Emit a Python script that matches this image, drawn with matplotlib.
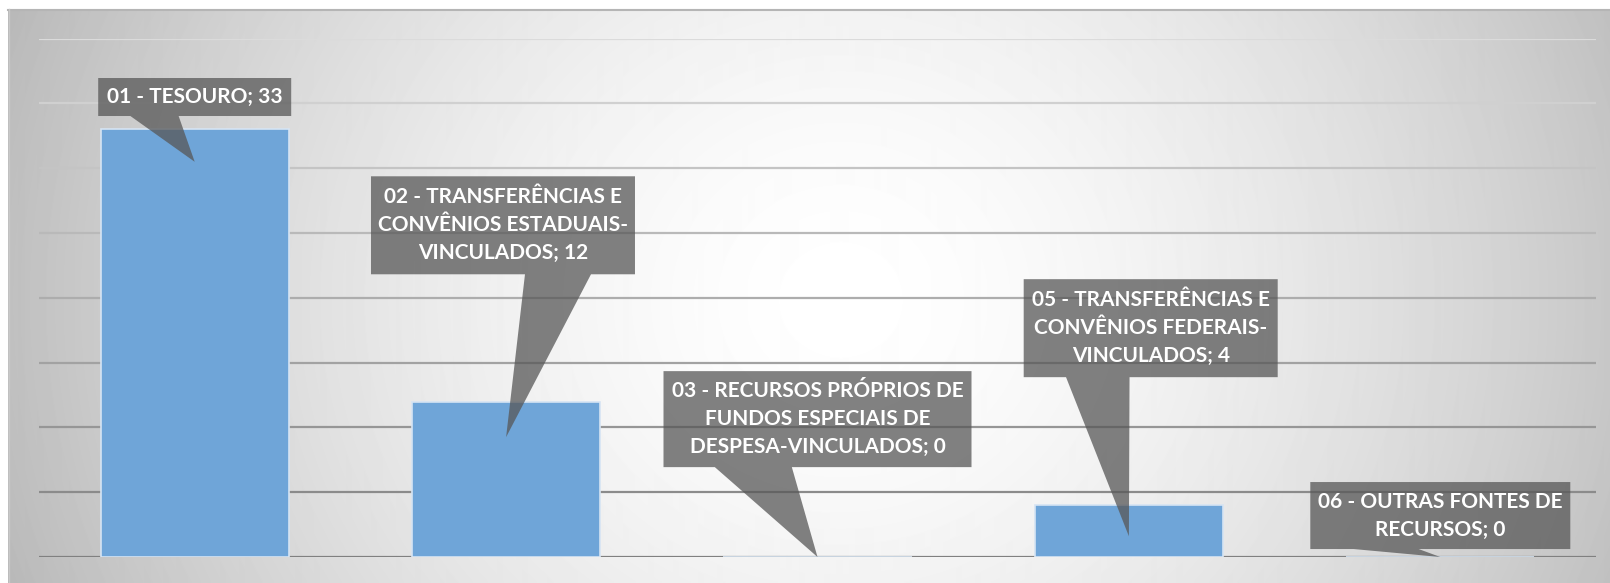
import numpy as np
import matplotlib.pyplot as plt
from matplotlib.patches import Polygon

categories = [
    "01 - TESOURO",
    "02 - TRANSFERÊNCIAS E\nCONVÊNIOS ESTADUAIS-\nVINCULADOS",
    "03 - RECURSOS PRÓPRIOS DE\nFUNDOS ESPECIAIS DE\nDESPESA-VINCULADOS",
    "05 - TRANSFERÊNCIAS E\nCONVÊNIOS FEDERAIS-\nVINCULADOS",
    "06 - OUTRAS FONTES DE\nRECURSOS",
]
values = [33, 12, 0, 4, 0]
y_ticks = [0, 5, 10, 15, 20, 25, 30, 35, 40]

# callout layout: box centre and pointer tip in data units, box size in pixels
box_centers = [(0.0, 35.5), (0.99, 25.6), (2.0, 10.64), (3.07, 17.66), (4.0, 3.2)]
tips = [(0.0, 30.5), (1.0, 9.25), (2.0, 0.0), (3.0, 1.6), (4.0, 0.0)]
box_sizes = [(193, 38), (264, 98), (308, 96), (254, 98), (260, 67)]

W, H = 1610, 583
fig = plt.figure(figsize=(W / 100, H / 100), dpi=100)

# background: radial grey gradient inside a frame
bg = fig.add_axes([0, 0, 1, 1])
bg.set_xlim(0, W)
bg.set_ylim(H, 0)
bg.set_axis_off()
yy, xx = np.mgrid[0:H, 0:W]
r = np.hypot((xx - 840) / 750, (yy - 300) / 700)
img = 1 - 0.21 * np.clip(r, 0, 1.3) ** 1.6
img[:, :8] = 1
img[:9, :] = 1
bg.imshow(img, cmap='gray', vmin=0, vmax=1, extent=(0, W, H, 0),
          aspect='auto', interpolation='bilinear')
bg.plot([8, W], [9.5, 9.5], color='#b5b5b5', lw=1.5)
bg.plot([8.5, 8.5], [9, H], color='#c8c8c8', lw=1)

ax = fig.add_axes([39 / W, (H - 557) / H, (1596 - 39) / W, (557 - 38.7) / H])
ax.patch.set_alpha(0)
ax.set_xlim(-0.5, len(values) - 0.5)
ax.set_ylim(0, 40)
ax.set_axis_off()

for t in y_ticks:
    g = 0.5 + 0.36 * t / 40
    ax.axhline(t, color=(g, g, g), lw=1.6, zorder=1)

x = np.arange(len(values))
ax.bar(x, values, width=0.605, color='#6fa5d8', edgecolor='#d6e4f3',
       linewidth=1.2, zorder=2)

px_x = ax.bbox.width / len(values)
px_y = ax.bbox.height / 40

for cat, v, (cx, cy), (tx, ty), (bw, bh) in zip(categories, values, box_centers, tips, box_sizes):
    w = bw / px_x
    h = bh / px_y
    left, right = cx - w / 2, cx + w / 2
    bottom, top = cy - h / 2, cy + h / 2
    if tx <= cx:
        b1, b2 = left + w * 2 / 12, left + w * 5 / 12
    else:
        b1, b2 = left + w * 7 / 12, left + w * 10 / 12
    verts = [(left, top), (right, top), (right, bottom), (b2, bottom),
             (tx, ty), (b1, bottom), (left, bottom)]
    ax.add_patch(Polygon(verts, closed=True, facecolor='#575757', alpha=0.75,
                         edgecolor='none', zorder=3, clip_on=False))
    ax.text(cx, cy, f"{cat}; {v}", ha='center', va='center', color='white',
            fontweight='bold', fontsize=15, family='Lato', linespacing=1.5,
            zorder=4, clip_on=False)

fig.savefig('out.png', dpi=100)
